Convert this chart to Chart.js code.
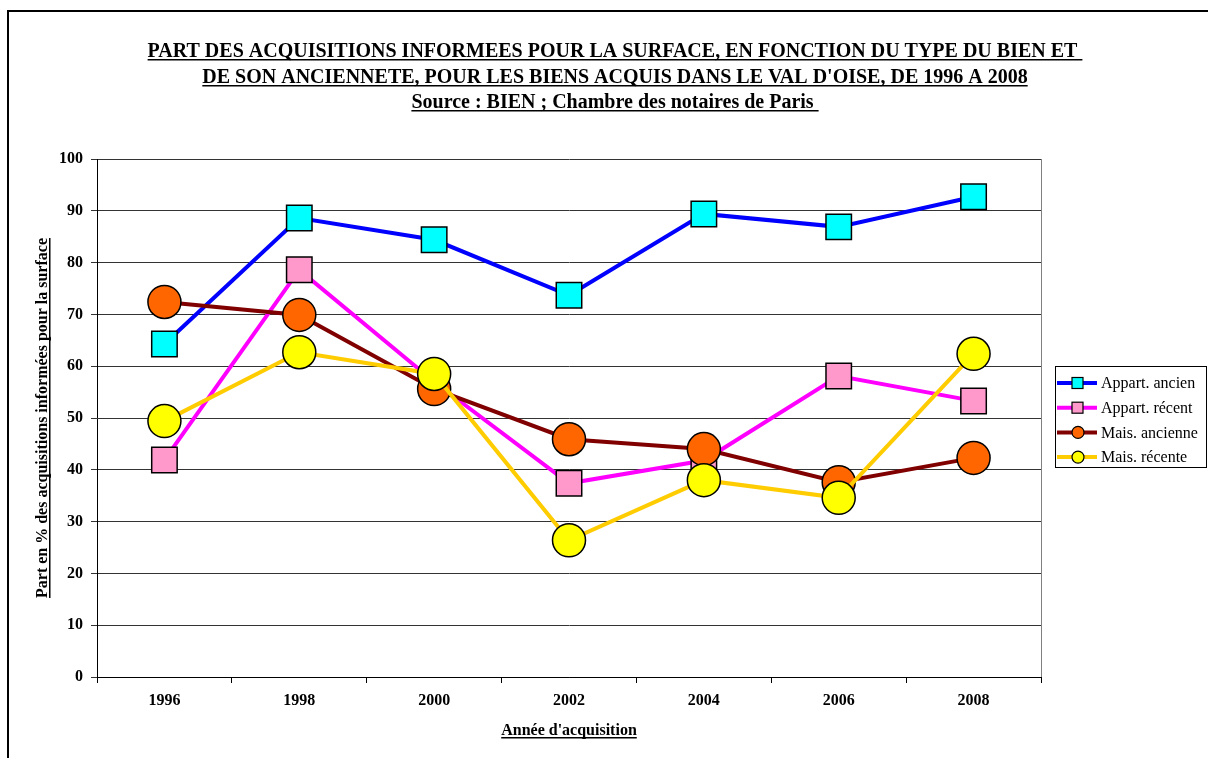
<!DOCTYPE html>
<html>
<head>
<meta charset="utf-8">
<script src="https://cdn.jsdelivr.net/npm/chart.js@4/dist/chart.umd.min.js"></script>
<style>
  body { margin: 0; background: #fff; }
</style>
</head>
<body>
<canvas id="graphe" width="1208" height="758"></canvas>
<script>
// donnees
var annees = ['1996', '1998', '2000', '2002', '2004', '2006', '2008'];
var appartAncien = [64.3, 88.6, 84.4, 73.7, 89.4, 86.9, 92.7];
var appartRecent = [41.9, 78.6, 57.0, 37.4, 41.8, 58.1, 53.3];
var maisAncienne = [72.4, 69.9, 55.6, 45.9, 44.0, 37.6, 42.3];
var maisRecente = [49.4, 62.7, 58.5, 26.4, 38.0, 34.6, 62.4];
var yMin = 0, yMax = 100, yPas = 10;

var titre = [
    'PART DES ACQUISITIONS INFORMEES POUR LA SURFACE, EN FONCTION DU TYPE DU BIEN ET ',
    "DE SON ANCIENNETE, POUR LES BIENS ACQUIS DANS LE VAL D'OISE, DE 1996 A 2008",
    'Source : BIEN ; Chambre des notaires de Paris '
];
var titreY = 'Part en % des acquisitions informées pour la surface';
var titreX = "Année d'acquisition";

var police = '"Liberation Serif", "Times New Roman", serif';

function souligne(ctx, txt, x, y) {
    ctx.fillText(txt, x, y);
    var w = ctx.measureText(txt).width;
    ctx.fillRect(x - w / 2, y + 2, w, 1.5);
}

var decor = {
    id: 'decor',
    beforeDraw: function (chart) {
        var ctx = chart.ctx;
        ctx.save();
        ctx.fillStyle = '#fff';
        ctx.fillRect(0, 0, chart.width, chart.height);
        // cadre
        ctx.strokeStyle = '#000';
        ctx.lineWidth = 2;
        ctx.beginPath();
        ctx.moveTo(8, chart.height);
        ctx.lineTo(8, 11);
        ctx.lineTo(chart.width, 11);
        ctx.stroke();
        ctx.restore();
    },
    beforeDatasetsDraw: function (chart) {
        var ctx = chart.ctx, a = chart.chartArea;
        ctx.save();
        ctx.strokeStyle = '#808080';
        ctx.lineWidth = 1;
        ctx.beginPath();
        ctx.moveTo(Math.round(a.right) + 0.5, a.top);
        ctx.lineTo(Math.round(a.right) + 0.5, a.bottom);
        ctx.stroke();
        ctx.restore();
    },
    afterDraw: function (chart) {
        var ctx = chart.ctx, a = chart.chartArea;
        ctx.save();
        ctx.fillStyle = '#000';
        ctx.textAlign = 'center';
        ctx.textBaseline = 'alphabetic';

        // titre
        ctx.font = 'bold 20px ' + police;
        var cx = 615;
        souligne(ctx, titre[0], cx, 57);
        souligne(ctx, titre[1], cx, 83);
        souligne(ctx, titre[2], cx, 108);

        // titres des axes
        ctx.font = 'bold 16px ' + police;
        souligne(ctx, titreX, (a.left + a.right) / 2, 735);
        ctx.save();
        ctx.translate(47, (a.top + a.bottom) / 2);
        ctx.rotate(-Math.PI / 2);
        souligne(ctx, titreY, 0, 0);
        ctx.restore();

        // legende
        var lx = 1055, ly = 366, lw = 151, lh = 101;
        ctx.strokeStyle = '#000';
        ctx.lineWidth = 1;
        ctx.strokeRect(lx + 0.5, ly + 0.5, lw, lh);
        ctx.font = '16px ' + police;
        ctx.textAlign = 'left';
        ctx.textBaseline = 'middle';
        chart.data.datasets.forEach(function (ds, i) {
            var y = ly + 17 + i * 24.7;
            ctx.strokeStyle = ds.borderColor;
            ctx.lineWidth = 4;
            ctx.beginPath();
            ctx.moveTo(lx + 2, y);
            ctx.lineTo(lx + 42, y);
            ctx.stroke();
            ctx.fillStyle = ds.pointBackgroundColor;
            ctx.strokeStyle = '#000';
            ctx.lineWidth = 1.2;
            if (ds.pointStyle === 'rect') {
                ctx.fillRect(lx + 17, y - 5.5, 11, 11);
                ctx.strokeRect(lx + 17, y - 5.5, 11, 11);
            } else {
                ctx.beginPath();
                ctx.arc(lx + 23, y, 6, 0, Math.PI * 2);
                ctx.fill();
                ctx.stroke();
            }
            ctx.fillStyle = '#000';
            ctx.fillText(ds.label, lx + 46, y + 1);
        });
        ctx.restore();
    }
};

function serie(label, valeurs, ligne, fond, style, ordre) {
    return {
        label: label,
        data: valeurs,
        borderColor: ligne,
        backgroundColor: fond,
        borderWidth: 4,
        pointStyle: style,
        pointRadius: style === 'rect' ? 18 : 16.5,
        pointHoverRadius: style === 'rect' ? 18 : 16.5,
        pointBackgroundColor: fond,
        pointBorderColor: '#000',
        pointBorderWidth: 1.5,
        tension: 0,
        fill: false,
        order: ordre
    };
}

var ctx = document.getElementById('graphe').getContext('2d');
var chart = new Chart(ctx, {
    type: 'line',
    data: {
        labels: annees,
        datasets: [
            serie('Appart. ancien', appartAncien, '#0000FF', '#00FFFF', 'rect', 4),
            serie('Appart. récent', appartRecent, '#FF00FF', '#FF99CC', 'rect', 3),
            serie('Mais. ancienne', maisAncienne, '#800000', '#FF6600', 'circle', 2),
            serie('Mais. récente', maisRecente, '#FFCC00', '#FFFF00', 'circle', 1)
        ]
    },
    options: {
        responsive: false,
        animation: false,
        devicePixelRatio: 1,
        layout: { padding: { left: 0, top: 159, right: 167, bottom: 0 } },
        plugins: {
            legend: { display: false },
            title: { display: false },
            tooltip: { enabled: false }
        },
        scales: {
            x: {
                offset: true,
                afterFit: function (s) { s.height = 81; },
                grid: {
                    offset: true,
                    drawOnChartArea: false,
                    drawTicks: true,
                    tickLength: 6,
                    color: '#000'
                },
                border: { color: '#000', width: 1 },
                ticks: {
                    color: '#000',
                    padding: 8,
                    maxRotation: 0,
                    font: { family: police, size: 16, weight: 'bold' }
                }
            },
            y: {
                min: yMin,
                max: yMax,
                afterFit: function (s) { s.width = 97; },
                grid: {
                    color: '#333',
                    lineWidth: 1,
                    tickLength: 6
                },
                border: { color: '#000', width: 1 },
                ticks: {
                    stepSize: yPas,
                    color: '#000',
                    padding: 8,
                    font: { family: police, size: 16, weight: 'bold' }
                }
            }
        }
    },
    plugins: [decor]
});
</script>
</body>
</html>
